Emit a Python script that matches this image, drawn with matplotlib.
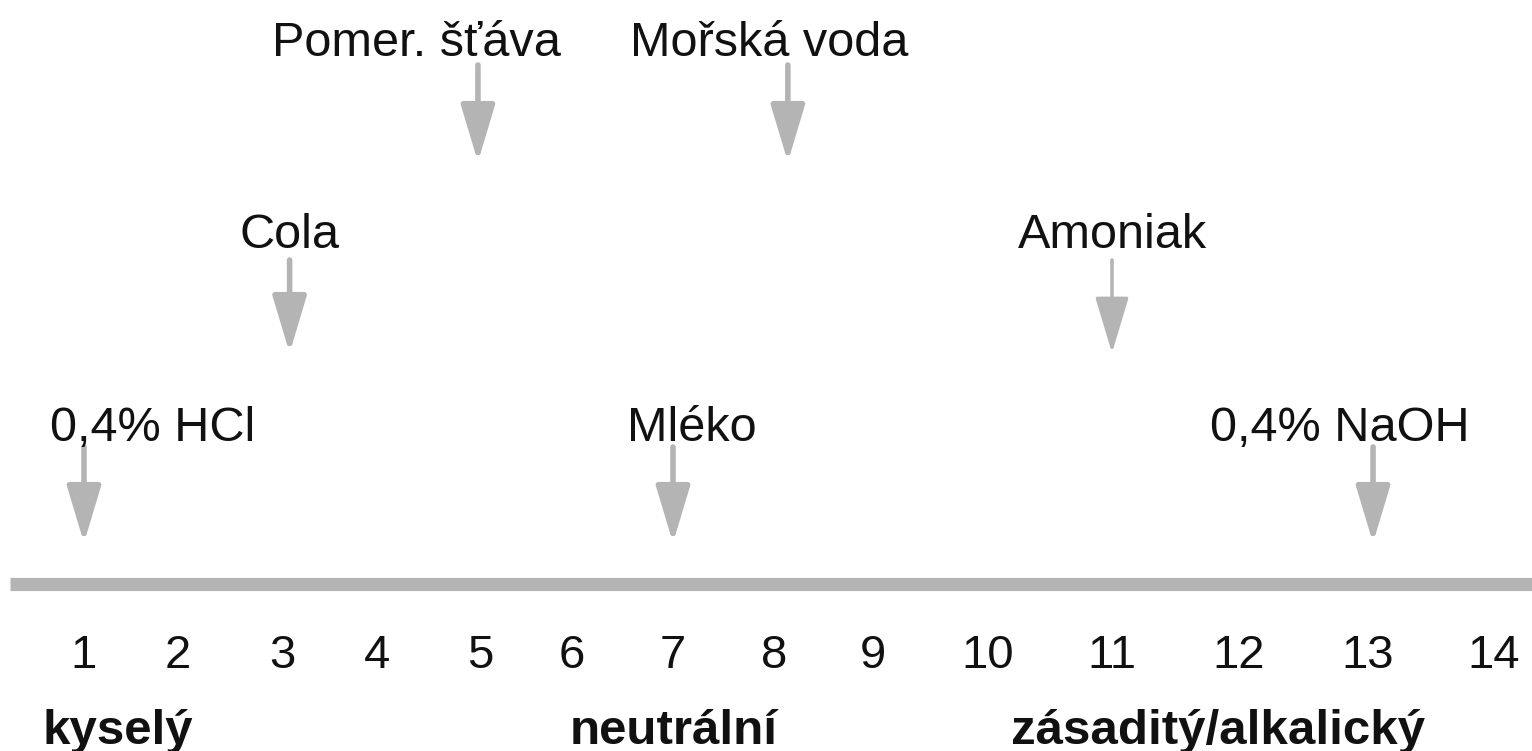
import numpy as np
import matplotlib
matplotlib.use("Agg")
import matplotlib.pyplot as plt
from matplotlib.patches import FancyArrowPatch

# ---- data ----
substances = ["0,4% HCl", "Cola", "Pomer. šťáva", "Mořská voda", "Mléko", "Amoniak", "0,4% NaOH"]
ph_values = [1.0, 3.08, 4.98, 8.14, 7.0, 11.0, 13.04]
row_of = [3, 2, 1, 1, 3, 2, 3]
label_shift_px = [69, 0, -62, -19, 19, 0, -33]
ticks = list(range(1, 15))
tick_labels = [str(t) for t in ticks]
region_names = ["kyselý", "neutrální", "zásaditý/alkalický"]

# non-uniform scale of the printed pH axis (pH -> pixel column)
scale_ph = np.arange(0, 16)
scale_px = np.array([-14, 84, 178, 282, 377, 480, 572, 673, 774, 873, 988, 1112, 1239, 1368, 1494, 1620], float)

def fwd(x):
    return np.interp(x, scale_ph, scale_px)

def inv(p):
    return np.interp(p, scale_px, scale_ph)

W, H = 1532, 751
fig = plt.figure(figsize=(W / 100, H / 100), dpi=100)
ax = fig.add_axes([0, 0, 1, 1])
ax.set_xscale("function", functions=(fwd, inv))
ax.set_xlim(inv(0), inv(W))
ax.set_ylim(H, 0)
ax.axis("off")

plt.rcParams["font.family"] = ["Liberation Sans", "DejaVu Sans"]
GRAY = "#b4b4b4"
TXT = "#111111"

# horizontal scale bar
ax.axhline(584, xmin=10 / W, xmax=1, color=GRAY, lw=9.5, solid_capstyle="butt")

# arrow rows: (text baseline, arrow top, arrow tip)
rows = {1: (56, 65, 162), 2: (248, 260, 353), 3: (441, 447, 543)}

for name, ph, r, dx in zip(substances, ph_values, row_of, label_shift_px):
    base, top, tip = rows[r]
    lw = 2.5 if name == "Amoniak" else 4.0
    arr = FancyArrowPatch((ph, top), (ph, tip), arrowstyle="-|>,head_length=35,head_width=10.5",
                          mutation_scale=1, lw=lw, color=GRAY, shrinkA=0, shrinkB=0)
    ax.add_patch(arr)
    px = fwd(ph) + dx
    ax.text(inv(px), base, name, ha="center", va="baseline", fontsize=35, color=TXT)

for t, lab in zip(ticks, tick_labels):
    ax.text(t, 668, lab, ha="center", va="baseline", fontsize=34, color=TXT)

ax.text(inv(42), 744, region_names[0], ha="left", va="baseline", fontsize=35.5, fontweight="bold", color=TXT)
ax.text(inv(674), 744, region_names[1], ha="center", va="baseline", fontsize=35.5, fontweight="bold", color=TXT)
ax.text(inv(1218), 744, region_names[2], ha="center", va="baseline", fontsize=35.5, fontweight="bold", color=TXT)

fig.savefig("out.png", dpi=100, facecolor="white")
